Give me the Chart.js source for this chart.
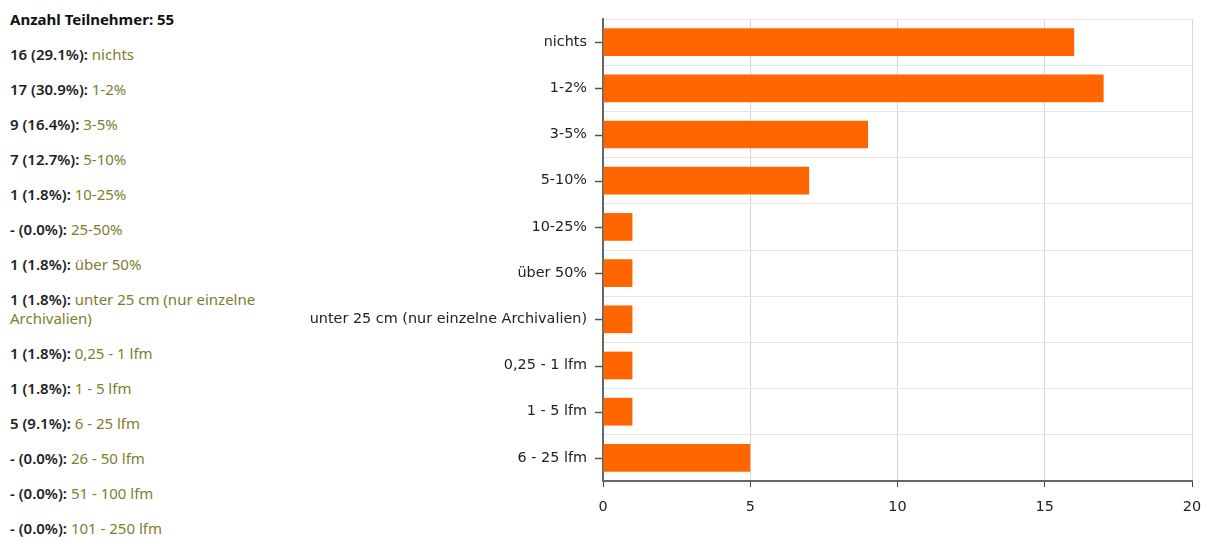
<!DOCTYPE html>
<html>
<head>
<meta charset="utf-8">
<script src="https://cdn.jsdelivr.net/npm/chart.js@4/dist/chart.umd.min.js"></script>
<style>
  html, body { margin: 0; padding: 0; background: #fff; }
  body { width: 1208px; height: 539px; position: relative; overflow: hidden; }
  #list { position: absolute; left: 10px; top: 10px; width: 272px; font-family: "Noto Sans", sans-serif; font-size: 15px; }
  #list p { margin: 0 0 16px 0; line-height: 19px; }
  #list .n { color: #1e1e1e; font-weight: 600; }
  #list .l { color: #7d7d2e; }
  #list h4 { margin: 0 0 16px 0; line-height: 19px; font-size: 15px; font-weight: 700; color: #111; }
  #chartWrap { position: absolute; left: 300px; top: 0; width: 908px; height: 539px; }
</style>
</head>
<body>
<div id="list"></div>
<div id="chartWrap"><canvas id="c" width="908" height="539"></canvas></div>
<script>
// Summary list (all answer options)
const participants = 55;
const listCounts = ["16", "17", "9", "7", "1", "-", "1", "1", "1", "1", "5", "-", "-", "-"];
const listPercents = ["29.1%", "30.9%", "16.4%", "12.7%", "1.8%", "0.0%", "1.8%", "1.8%", "1.8%", "1.8%", "9.1%", "0.0%", "0.0%", "0.0%"];
const listLabels = ["nichts", "1-2%", "3-5%", "5-10%", "10-25%", "25-50%", "über 50%", "unter 25 cm (nur einzelne Archivalien)", "0,25 - 1 lfm", "1 - 5 lfm", "6 - 25 lfm", "26 - 50 lfm", "51 - 100 lfm", "101 - 250 lfm"];

// Chart data (non-zero options)
const categories = ["nichts", "1-2%", "3-5%", "5-10%", "10-25%", "über 50%", "unter 25 cm (nur einzelne Archivalien)", "0,25 - 1 lfm", "1 - 5 lfm", "6 - 25 lfm"];
const values = [16, 17, 9, 7, 1, 1, 1, 1, 1, 5];
const xTicks = [0, 5, 10, 15, 20];

const list = document.getElementById('list');
let html = '<h4>Anzahl Teilnehmer: ' + participants + '</h4>';
for (let i = 0; i < listLabels.length; i++) {
  html += '<p><span class="n">' + listCounts[i] + ' (' + listPercents[i] + '):</span> <span class="l">' + listLabels[i] + '</span></p>';
}
list.innerHTML = html;

const yTickMarks = {
  id: 'yTickMarks',
  afterDraw(chart) {
    const s = chart.scales.y, ctx = chart.ctx, left = chart.chartArea.left;
    ctx.save();
    ctx.strokeStyle = '#555';
    ctx.lineWidth = 1.5;
    for (let i = 0; i < categories.length; i++) {
      const y = Math.round(s.getPixelForTick(i)) + 0.5;
      ctx.beginPath();
      ctx.moveTo(left - 8, y);
      ctx.lineTo(left - 1, y);
      ctx.stroke();
    }
    ctx.restore();
  }
};

Chart.defaults.font.family = '"DejaVu Sans", sans-serif';
Chart.defaults.font.size = 14.4;
Chart.defaults.color = '#222';

new Chart(document.getElementById('c'), {
  type: 'bar',
  data: {
    labels: categories,
    datasets: [{
      data: values,
      backgroundColor: '#ff6600',
      borderWidth: 0,
      barPercentage: 0.6,
      categoryPercentage: 1.0
    }]
  },
  options: {
    indexAxis: 'y',
    responsive: false,
    animation: false,
    layout: { padding: { top: 19, right: 16, left: 0, bottom: 0 } },
    plugins: { legend: { display: false }, tooltip: { enabled: false } },
    scales: {
      x: {
        min: xTicks[0],
        max: xTicks[xTicks.length - 1],
        afterBuildTicks(scale) { scale.ticks = xTicks.map(v => ({ value: v })); },
        afterFit(scale) { scale.height = 58; scale.paddingLeft = 0; scale.paddingRight = 0; },
        grid: { color: '#d6d6d6', tickColor: '#444', tickLength: 6, lineWidth: 1 },
        border: { color: '#666', width: 2 },
        ticks: { padding: 12, color: '#222', font: { size: 14.4 } }
      },
      y: {
        afterFit(scale) { scale.width = 303; scale.paddingTop = 0; scale.paddingBottom = 0; },
        grid: { color: '#e6e6e6', offset: true, drawTicks: false, lineWidth: 1 },
        border: { color: '#666', width: 2 },
        ticks: { padding: 16, color: '#222', font: { size: 14.4 }, autoSkip: false }
      }
    }
  },
  plugins: [yTickMarks]
});
</script>
</body>
</html>
